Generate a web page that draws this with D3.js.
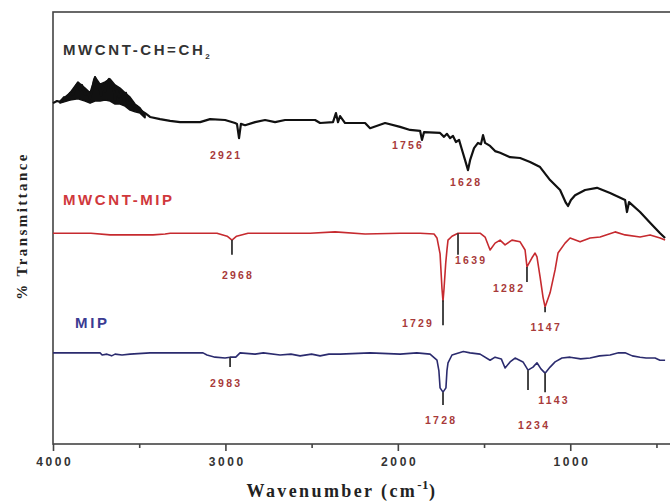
<!DOCTYPE html>
<html>
<head>
<meta charset="utf-8">
<title>FTIR spectra</title>
<script src="https://d3js.org/d3.v7.min.js"></script>
<style>
  body {margin:0; background:#fff;}
  svg text {font-family:'Liberation Sans', Arial, sans-serif; font-weight:bold;}
  .serif {font-family:'Liberation Serif', 'DejaVu Serif', serif !important;}
</style>
</head>
<body>
<svg id="chart" width="670" height="504"></svg>
<script>
// ---- data (wavenumber cm-1, relative % transmittance, offset per trace) ----
var blackWn = [4000,3977,3959,3936,3919,3901,3884,3867,3855,3843,3832,3814,3797,3785,3774,3762,3756,3745,3733,3722,3710,3698,3687,3675,3664,3652,3640,3629,3617,3606,3588,3577,3565,3548,3530,3513,3495,3466,3437,3379,3321,3263,3147,3089,3002,2944,2933,2921,2910,2886,2828,2770,2712,2654,2480,2451,2376,2359,2347,2335,2306,2190,2161,2074,1987,1929,1871,1860,1848,1755,1732,1715,1697,1680,1663,1645,1628,1610,1593,1581,1558,1535,1518,1506,1494,1465,1436,1407,1378,1349,1291,1233,1175,1117,1059,1025,1013,996,972,914,845,769,682,671,659,595,537,479,450];
var blackT  = [78.9,79.4,79.2,80.3,79.9,81.3,80.8,82.9,83.6,81.9,83.1,80.8,81.5,79.9,81.7,84.3,84.9,82.4,83.3,80.6,82.9,81.5,83.8,84.5,82.4,83.3,79.6,81.9,80.3,81.5,79.4,81.3,78.7,79.2,78.0,78.2,77.3,76.6,75.7,75.2,74.8,74.5,74.5,75.2,75.0,74.3,74.1,70.8,74.1,73.8,74.5,75.0,74.5,75.0,75.0,74.3,74.5,76.6,74.5,75.9,74.3,74.3,73.1,74.3,73.4,72.7,72.5,70.4,72.2,72.0,71.1,71.8,70.8,71.3,69.9,70.4,68.1,65.7,63.4,65.7,68.5,69.7,69.4,71.5,69.7,69.0,67.8,67.4,66.9,66.4,66.2,65.3,64.1,61.1,58.8,55.8,55.1,56.5,57.6,58.8,59.3,58.1,56.5,53.7,56.0,53.7,51.2,48.8,47.7];
// noise envelope of the black trace in the O-H region
var blackBandWn = [3959,3901,3855,3814,3785,3756,3727,3698,3669,3640,3611,3582,3553,3524,3495,3466];
var blackBandHi = [79.4,81.3,83.8,82.4,81.3,85.0,83.3,83.8,84.5,83.1,82.4,81.3,80.3,78.7,77.8,76.2];
var blackBandLo = [78.9,79.6,79.9,79.4,78.9,79.4,79.4,79.6,79.4,78.7,78.7,78.2,77.3,76.9,76.6,75.5];

var redWn = [4000,3780,3669,3420,3350,3320,3049,2990,2962,2935,2869,2509,2364,2190,1987,1871,1790,1773,1755,1744,1738,1732,1722,1715,1709,1686,1651,1523,1494,1465,1436,1407,1378,1338,1291,1262,1251,1222,1204,1193,1175,1158,1146,1117,1088,1071,1030,1001,943,885,827,740,682,595,537,479,450];
var redT  = [48.8,48.8,48.4,48.4,48.6,48.8,48.8,48.1,47.2,48.1,48.8,48.8,49.1,48.6,48.8,48.8,48.6,47.7,44.0,36.0,33.0,36.0,42.0,45.0,47.2,48.1,48.8,48.8,47.9,44.9,46.5,47.2,46.1,47.2,46.8,44.9,41.0,43.1,44.2,43.3,38.7,34.0,31.7,35.0,40.3,44.2,46.5,47.7,46.8,47.7,47.9,49.1,48.4,47.9,48.4,47.7,47.2];

var navyWn = [4000,3727,3715,3687,3660,3640,3600,3553,3437,3130,3107,3060,3002,2973,2940,2915,2828,2780,2683,2620,2567,2500,2451,2400,2335,2161,1987,1890,1813,1773,1762,1755,1738,1721,1715,1709,1686,1620,1581,1523,1465,1436,1400,1378,1349,1320,1274,1245,1216,1193,1170,1146,1117,1088,1048,1001,940,885,830,769,720,682,640,595,560,508,480,450];
var navyT  = [21.1,21.1,20.6,20.8,20.4,20.8,20.6,20.8,21.1,21.1,20.6,20.1,19.9,20.1,20.1,21.1,20.8,21.1,20.6,20.8,20.4,20.8,20.4,20.8,20.8,21.1,20.8,21.1,20.8,19.4,17.0,13.0,12.0,13.0,17.0,18.8,20.6,21.4,21.1,20.8,19.4,20.1,19.7,17.6,19.0,19.9,19.0,17.1,17.8,18.8,17.4,16.4,17.8,19.0,19.9,20.1,19.7,19.9,20.4,20.6,21.1,21.1,20.4,20.1,19.9,19.9,19.4,19.4];

// peak markers: [wavenumber, top, bottom]
var peakMarks = [[2962,47.2,43.8],[1738,33.3,27.5],[1651,48.8,43.8],[1251,41.0,37.5],[1146,31.7,30.5],
                 [2973,20.1,17.8],[1738,12.0,9.0],[1245,17.1,12.5],[1146,16.4,12.0]];
// peak labels: [text, wavenumber, value]
var peakLabels = [['2921',3002,66.0],['1756',1947,68.3],['1628',1610,59.7],
                  ['2968',2933,38.2],['1639',1581,41.7],['1282',1361,35.2],['1729',1889,27.1],['1147',1146,26.2],
                  ['2983',3002,13.2],['1143',1100,9.3],['1728',1755,4.6],['1234',1216,3.5]];
var seriesNames = ['MWCNT-CH=CH','MWCNT-MIP','MIP'];
var seriesColors = ['#111111','#c62a2f','#2b2b6e'];
var nameColors = ['#333333','#d0383c','#3b3b92'];
var namePos = [[3942,90.0],[3942,55.3],[3872,26.9]];
var majorTicks = [4000,3000,2000,1000];
var minorTicks = [3500,2500,1500,500];

var svg = d3.select('#chart');
var x = d3.scaleLinear().domain([4000,400]).range([53,673.7]);
var y = d3.scaleLinear().domain([0,100]).range([444,12]);

// frame
svg.append('rect').attr('x',53).attr('y',12).attr('width',620).attr('height',432)
   .attr('fill','none').attr('stroke','#444').attr('stroke-width',1.6);

// axis
var ax = svg.append('g').attr('transform','translate(0,444)')
   .call(d3.axisBottom(x).tickValues(majorTicks).tickSize(7).tickSizeOuter(0).tickFormat(d3.format('d')));
ax.select('.domain').remove();
ax.selectAll('line').attr('stroke','#444').attr('stroke-width',1.6);
ax.selectAll('text').attr('font-size',12).attr('fill','#333').attr('dy','1.0em')
   .attr('letter-spacing',2.6).attr('dx',1.3).style('font-family','Liberation Sans, Arial, sans-serif');
svg.append('g').attr('transform','translate(0,444)')
   .call(d3.axisBottom(x).tickValues(minorTicks).tickSize(4).tickFormat(''))
   .call(function(g){g.select('.domain').remove();
                     g.selectAll('line').attr('stroke','#444').attr('stroke-width',1.6);});

// traces
var line = d3.line().x(function(d){return x(d[0]);}).y(function(d){return y(d[1]);});
var area = d3.area().x(function(d){return x(d[0]);})
   .y0(function(d){return y(d[2]);}).y1(function(d){return y(d[1]);});
svg.append('path').datum(d3.zip(blackBandWn,blackBandHi,blackBandLo)).attr('d',area)
   .attr('fill','#111').attr('stroke','#111').attr('stroke-width',1.5).attr('stroke-linejoin','round');
[[blackWn,blackT,2.2],[redWn,redT,1.6],[navyWn,navyT,1.6]].forEach(function(s,i){
  svg.append('path').datum(d3.zip(s[0],s[1])).attr('d',line)
     .attr('fill','none').attr('stroke',seriesColors[i]).attr('stroke-width',s[2])
     .attr('stroke-linejoin','round');
});

// peak markers
svg.selectAll('line.pk').data(peakMarks).enter().append('line').attr('class','pk')
   .attr('x1',function(d){return x(d[0]);}).attr('x2',function(d){return x(d[0]);})
   .attr('y1',function(d){return y(d[1]);}).attr('y2',function(d){return y(d[2]);})
   .attr('stroke','#333').attr('stroke-width',1.8);

// peak labels
svg.selectAll('text.pl').data(peakLabels).enter().append('text').attr('class','pl')
   .attr('x',function(d){return x(d[1]);}).attr('y',function(d){return y(d[2]);})
   .attr('text-anchor','middle').attr('font-size',10.5).attr('letter-spacing',2.2)
   .attr('dx',1.1).attr('fill','#a83a3a').text(function(d){return d[0];});

// series names
seriesNames.forEach(function(n,i){
  var t = svg.append('text').attr('x',x(namePos[i][0])).attr('y',y(namePos[i][1]))
     .attr('font-size',15).attr('letter-spacing',2.6).attr('fill',nameColors[i]).text(n);
  if (i===0) t.append('tspan').attr('font-size',8).attr('dy',4).text('2');
});

// axis titles
var xt = svg.append('text').attr('class','serif').attr('x',342).attr('y',497).attr('text-anchor','middle')
   .attr('font-size',18).attr('letter-spacing',2.4).attr('fill','#222');
xt.append('tspan').text('Wavenumber (cm');
xt.append('tspan').attr('font-size',13).attr('dy',-8).attr('letter-spacing',0.5).text('-1');
xt.append('tspan').attr('dy',8).text(')');
svg.append('text').attr('class','serif').attr('transform','translate(27,226) rotate(-90)')
   .attr('text-anchor','middle').attr('font-size',15).attr('letter-spacing',2.4)
   .attr('fill','#222').text('% Transmittance');
</script>
</body>
</html>
